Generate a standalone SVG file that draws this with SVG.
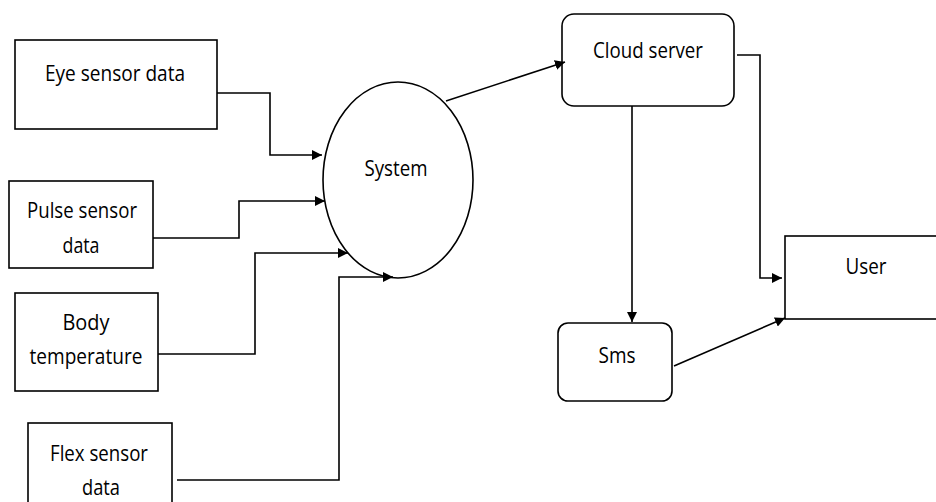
<svg xmlns="http://www.w3.org/2000/svg" width="936" height="502" viewBox="0 0 936 502">
  <style>
    .box { fill: #fff; stroke: #000; stroke-width: 1.6; }
    .lbl { font-family: "Open Sans", "Liberation Sans", sans-serif; font-size: 22px; fill: #000; text-anchor: middle; }
    .wire { fill: none; stroke: #000; stroke-width: 1.6; }
  </style>
  <defs>
    <marker id="arrow" viewBox="0 0 10 10" refX="10" refY="5" markerWidth="10" markerHeight="10" markerUnits="userSpaceOnUse" orient="auto">
      <path d="M0,0 L10,5 L0,10 Z" fill="#000"/>
    </marker>
  </defs>
  <rect width="936" height="502" fill="#fff"/>

  <g id="eye-sensor">
    <rect class="box" x="15" y="40" width="202" height="89"/>
    <text class="lbl" x="115" y="81" textLength="140" lengthAdjust="spacingAndGlyphs">Eye sensor data</text>
  </g>
  <g id="pulse-sensor">
    <rect class="box" x="9" y="181" width="144" height="87"/>
    <text class="lbl" x="82" y="218" textLength="110" lengthAdjust="spacingAndGlyphs">Pulse sensor</text>
    <text class="lbl" x="81" y="253" textLength="37" lengthAdjust="spacingAndGlyphs">data</text>
  </g>
  <g id="body-temperature">
    <rect class="box" x="15" y="293" width="143" height="98"/>
    <text class="lbl" x="86" y="330" textLength="47" lengthAdjust="spacingAndGlyphs">Body</text>
    <text class="lbl" x="86" y="364" textLength="113" lengthAdjust="spacingAndGlyphs">temperature</text>
  </g>
  <g id="flex-sensor">
    <rect class="box" x="28" y="423" width="144" height="90"/>
    <text class="lbl" x="99" y="461" textLength="98" lengthAdjust="spacingAndGlyphs">Flex sensor</text>
    <text class="lbl" x="101" y="495" textLength="38" lengthAdjust="spacingAndGlyphs">data</text>
  </g>
  <g id="system">
    <ellipse class="box" cx="398" cy="180" rx="75" ry="98"/>
    <text class="lbl" x="396" y="176" textLength="63" lengthAdjust="spacingAndGlyphs">System</text>
  </g>
  <g id="cloud-server">
    <rect class="box" x="562" y="14" width="172" height="92" rx="12"/>
    <text class="lbl" x="648" y="58" textLength="110" lengthAdjust="spacingAndGlyphs">Cloud server</text>
  </g>
  <g id="sms">
    <rect class="box" x="558" y="323" width="114" height="78" rx="10"/>
    <text class="lbl" x="617" y="363" textLength="37" lengthAdjust="spacingAndGlyphs">Sms</text>
  </g>
  <g id="user">
    <rect class="box" x="785" y="236" width="160" height="83"/>
    <text class="lbl" x="866" y="274" textLength="41" lengthAdjust="spacingAndGlyphs">User</text>
  </g>

  <g id="connectors">
    <polyline class="wire" points="217,93 270,93 270,155 322,155" marker-end="url(#arrow)"/>
    <polyline class="wire" points="153,238 239,238 239,201 325,201" marker-end="url(#arrow)"/>
    <polyline class="wire" points="158,354 255,354 255,253 348,253" marker-end="url(#arrow)"/>
    <polyline class="wire" points="177,480 339,480 339,277 393,277" marker-end="url(#arrow)"/>
    <line class="wire" x1="446" y1="101" x2="565" y2="62" marker-end="url(#arrow)"/>
    <polyline class="wire" points="737,55 760,55 760,278 782,278" marker-end="url(#arrow)"/>
    <line class="wire" x1="632" y1="106" x2="632" y2="322" marker-end="url(#arrow)"/>
    <line class="wire" x1="674" y1="366" x2="785" y2="318" marker-end="url(#arrow)"/>
  </g>
</svg>
